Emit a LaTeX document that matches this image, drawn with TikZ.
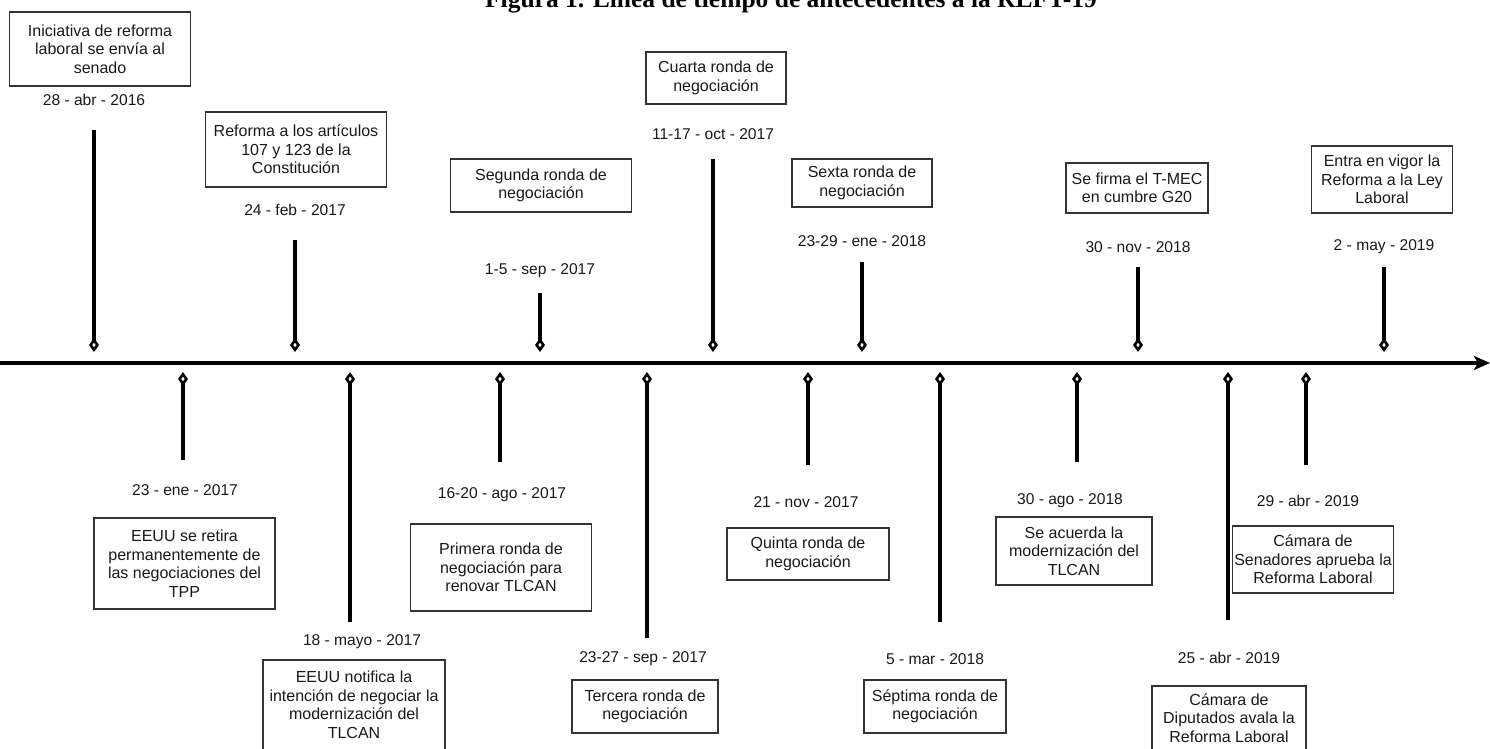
\documentclass[tikz,border=0pt]{standalone}
\usepackage{fontspec}
\setmainfont{Liberation Sans}
\newfontfamily\titlefam{Liberation Serif}
\usetikzlibrary{arrows.meta}

\tikzset{
    evbox/.style={draw=black!80, line width=1.3pt, align=center, inner sep=0pt,
        text=black!90, font=\fontsize{16}{18.5}\selectfont},
    evdate/.style={text=black!90, font=\fontsize{15.6}{18}\selectfont},
    evstem/.style={line width=3.6pt, -{Diamond[open, length=14pt, width=10pt, line width=2.6pt]}},
    axisline/.style={line width=4pt, -{Stealth[length=16pt, width=14pt, inset=4pt]}},
}

\begin{document}
\begin{tikzpicture}[x=1pt, y=-1pt]
    \useasboundingbox (0,0) rectangle (1490,748);

    % titulo (cortado arriba)
    \node[anchor=base, font={\titlefam\bfseries\fontsize{25.5}{28}\selectfont}] (title) at (791,7.5)
        {Figura 1. Línea de tiempo de antecedentes a la RLFT-19};

    % eje
    \coordinate (axisL) at (0,363);
    \coordinate (axisR) at (1490,363);
    \draw[axisline] (axisL) -- (axisR);

    % eventos arriba del eje
    \foreach \sx/\bx/\by/\w/\h/\dy/\st/\txt/\dt [count=\i] in {
        94/100/49/181/74/100/130/{Iniciativa de reforma\\laboral se envía al\\senado}/{28 - abr - 2016},
        295/296/149.5/181/75/210/240/{Reforma a los artículos\\107 y 123 de la\\Constitución}/{24 - feb - 2017},
        540/541/185.5/181/53/271/293/{Segunda ronda de\\negociación}/{1-5 - sep - 2017},
        713/716/78/140/52/134/159/{Cuarta ronda de\\negociación}/{11-17 - oct - 2017},
        862/862/183/140/48/241/262/{Sexta ronda de\\negociación}/{23-29 - ene - 2018},
        1138/1137/188/142/50/247/267/{Se firma el T-MEC\\en cumbre G20}/{30 - nov - 2018},
        1384/1382/179.5/141/67/247/267/{Entra en vigor la\\Reforma a la Ley\\Laboral}/{2 - may - 2019}} {
        \node[evbox, minimum width=\w pt, minimum height=\h pt] (ubox\i) at (\bx,\by) {\txt};
        \node[evdate] (udate\i) at (\sx,\dy) {\dt};
        \coordinate (utop\i) at (\sx,\st);
        \coordinate (ubot\i) at (\sx,352);
        \draw[evstem] (utop\i) -- (ubot\i);
    }

    % eventos abajo del eje
    \foreach \sx/\bx/\by/\w/\h/\dx/\dy/\sb/\txt/\dt [count=\i] in {
        183/184.5/563.5/181/91/185/490/460/{EEUU se retira\\permanentemente de\\las negociaciones del\\TPP}/{23 - ene - 2017},
        350/354/705/182/90/362/642/622/{EEUU notifica la\\intención de negociar la\\modernización del\\TLCAN}/{18 - mayo - 2017},
        500/501/567.5/181/87/502/495/462/{Primera ronda de\\negociación para\\renovar TLCAN}/{16-20 - ago - 2017},
        647/645/706.5/146/53/643/659/638/{Tercera ronda de\\negociación}/{23-27 - sep - 2017},
        808/808/554/162/52/806/502/465/{Quinta ronda de\\negociación}/{21 - nov - 2017},
        940/935/706.5/142/53/935/659/622/{Séptima ronda de\\negociación}/{5 - mar - 2018},
        1077/1074/551/156/68/1070/501/462/{Se acuerda la\\modernización del\\TLCAN}/{30 - ago - 2018},
        1228/1229/718/154/64/1229/658/620/{Cámara de\\Diputados avala la\\Reforma Laboral}/{25 - abr - 2019},
        1306/1313/559.5/161/67/1308/501/465/{Cámara de\\Senadores aprueba la\\Reforma Laboral}/{29 - abr - 2019}} {
        \node[evbox, minimum width=\w pt, minimum height=\h pt] (lbox\i) at (\bx,\by) {\txt};
        \node[evdate] (ldate\i) at (\dx,\dy) {\dt};
        \coordinate (lbot\i) at (\sx,\sb);
        \coordinate (ltop\i) at (\sx,372);
        \draw[evstem] (lbot\i) -- (ltop\i);
    }
\end{tikzpicture}
\end{document}
